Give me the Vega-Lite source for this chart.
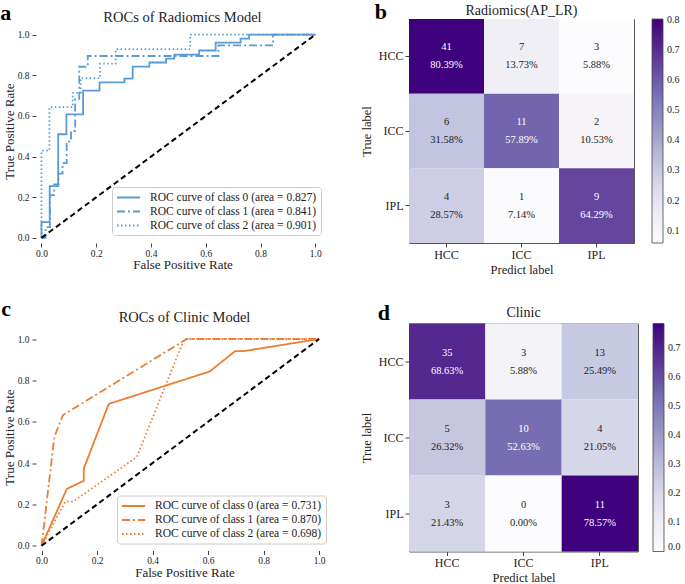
{
  "$schema": "https://vega.github.io/schema/vega-lite/v6.json",
  "padding": {"left": 0, "top": 1, "right": 0, "bottom": 0},
  "background": "white",
  "config": {
    "font": "Liberation Serif",
    "view": {"stroke": "#555", "strokeWidth": 1},
    "axis": {"grid": false, "domain": false, "tickColor": "#444", "labelColor": "#222", "titleColor": "#222", "titleFontWeight": "normal", "labelFont": "Liberation Serif", "titleFont": "Liberation Serif"},
    "title": {"fontWeight": "normal", "color": "#222", "font": "Liberation Serif"},
    "legend": {"labelFont": "Liberation Serif", "titleFont": "Liberation Serif"},
    "text": {"font": "Liberation Serif"}
  },
  "datasets": {
    "rocA": [
      {"curve": "ROC curve of class 0 (area = 0.827)", "fpr": 0, "tpr": 0},
      {"curve": "ROC curve of class 0 (area = 0.827)", "fpr": 0, "tpr": 0.078},
      {"curve": "ROC curve of class 0 (area = 0.827)", "fpr": 0.03, "tpr": 0.078},
      {"curve": "ROC curve of class 0 (area = 0.827)", "fpr": 0.03, "tpr": 0.255},
      {"curve": "ROC curve of class 0 (area = 0.827)", "fpr": 0.061, "tpr": 0.255},
      {"curve": "ROC curve of class 0 (area = 0.827)", "fpr": 0.061, "tpr": 0.51},
      {"curve": "ROC curve of class 0 (area = 0.827)", "fpr": 0.091, "tpr": 0.51},
      {"curve": "ROC curve of class 0 (area = 0.827)", "fpr": 0.091, "tpr": 0.608},
      {"curve": "ROC curve of class 0 (area = 0.827)", "fpr": 0.152, "tpr": 0.608},
      {"curve": "ROC curve of class 0 (area = 0.827)", "fpr": 0.152, "tpr": 0.725},
      {"curve": "ROC curve of class 0 (area = 0.827)", "fpr": 0.212, "tpr": 0.725},
      {"curve": "ROC curve of class 0 (area = 0.827)", "fpr": 0.212, "tpr": 0.765},
      {"curve": "ROC curve of class 0 (area = 0.827)", "fpr": 0.303, "tpr": 0.765},
      {"curve": "ROC curve of class 0 (area = 0.827)", "fpr": 0.303, "tpr": 0.784},
      {"curve": "ROC curve of class 0 (area = 0.827)", "fpr": 0.333, "tpr": 0.784},
      {"curve": "ROC curve of class 0 (area = 0.827)", "fpr": 0.333, "tpr": 0.843},
      {"curve": "ROC curve of class 0 (area = 0.827)", "fpr": 0.394, "tpr": 0.843},
      {"curve": "ROC curve of class 0 (area = 0.827)", "fpr": 0.394, "tpr": 0.863},
      {"curve": "ROC curve of class 0 (area = 0.827)", "fpr": 0.455, "tpr": 0.863},
      {"curve": "ROC curve of class 0 (area = 0.827)", "fpr": 0.455, "tpr": 0.882},
      {"curve": "ROC curve of class 0 (area = 0.827)", "fpr": 0.485, "tpr": 0.882},
      {"curve": "ROC curve of class 0 (area = 0.827)", "fpr": 0.485, "tpr": 0.902},
      {"curve": "ROC curve of class 0 (area = 0.827)", "fpr": 0.576, "tpr": 0.902},
      {"curve": "ROC curve of class 0 (area = 0.827)", "fpr": 0.576, "tpr": 0.922},
      {"curve": "ROC curve of class 0 (area = 0.827)", "fpr": 0.636, "tpr": 0.922},
      {"curve": "ROC curve of class 0 (area = 0.827)", "fpr": 0.636, "tpr": 0.961},
      {"curve": "ROC curve of class 0 (area = 0.827)", "fpr": 0.727, "tpr": 0.961},
      {"curve": "ROC curve of class 0 (area = 0.827)", "fpr": 0.727, "tpr": 0.98},
      {"curve": "ROC curve of class 0 (area = 0.827)", "fpr": 0.758, "tpr": 0.98},
      {"curve": "ROC curve of class 0 (area = 0.827)", "fpr": 0.758, "tpr": 1.0},
      {"curve": "ROC curve of class 0 (area = 0.827)", "fpr": 1.0, "tpr": 1.0},
      {"curve": "ROC curve of class 1 (area = 0.841)", "fpr": 0, "tpr": 0},
      {"curve": "ROC curve of class 1 (area = 0.841)", "fpr": 0.015, "tpr": 0},
      {"curve": "ROC curve of class 1 (area = 0.841)", "fpr": 0.015, "tpr": 0.053},
      {"curve": "ROC curve of class 1 (area = 0.841)", "fpr": 0.031, "tpr": 0.053},
      {"curve": "ROC curve of class 1 (area = 0.841)", "fpr": 0.031, "tpr": 0.211},
      {"curve": "ROC curve of class 1 (area = 0.841)", "fpr": 0.046, "tpr": 0.211},
      {"curve": "ROC curve of class 1 (area = 0.841)", "fpr": 0.046, "tpr": 0.263},
      {"curve": "ROC curve of class 1 (area = 0.841)", "fpr": 0.062, "tpr": 0.263},
      {"curve": "ROC curve of class 1 (area = 0.841)", "fpr": 0.062, "tpr": 0.316},
      {"curve": "ROC curve of class 1 (area = 0.841)", "fpr": 0.077, "tpr": 0.316},
      {"curve": "ROC curve of class 1 (area = 0.841)", "fpr": 0.077, "tpr": 0.368},
      {"curve": "ROC curve of class 1 (area = 0.841)", "fpr": 0.092, "tpr": 0.368},
      {"curve": "ROC curve of class 1 (area = 0.841)", "fpr": 0.092, "tpr": 0.474},
      {"curve": "ROC curve of class 1 (area = 0.841)", "fpr": 0.108, "tpr": 0.474},
      {"curve": "ROC curve of class 1 (area = 0.841)", "fpr": 0.108, "tpr": 0.526},
      {"curve": "ROC curve of class 1 (area = 0.841)", "fpr": 0.123, "tpr": 0.526},
      {"curve": "ROC curve of class 1 (area = 0.841)", "fpr": 0.123, "tpr": 0.684},
      {"curve": "ROC curve of class 1 (area = 0.841)", "fpr": 0.138, "tpr": 0.684},
      {"curve": "ROC curve of class 1 (area = 0.841)", "fpr": 0.138, "tpr": 0.842},
      {"curve": "ROC curve of class 1 (area = 0.841)", "fpr": 0.169, "tpr": 0.842},
      {"curve": "ROC curve of class 1 (area = 0.841)", "fpr": 0.169, "tpr": 0.895},
      {"curve": "ROC curve of class 1 (area = 0.841)", "fpr": 0.646, "tpr": 0.895},
      {"curve": "ROC curve of class 1 (area = 0.841)", "fpr": 0.646, "tpr": 0.947},
      {"curve": "ROC curve of class 1 (area = 0.841)", "fpr": 0.846, "tpr": 0.947},
      {"curve": "ROC curve of class 1 (area = 0.841)", "fpr": 0.846, "tpr": 1.0},
      {"curve": "ROC curve of class 1 (area = 0.841)", "fpr": 1.0, "tpr": 1.0},
      {"curve": "ROC curve of class 2 (area = 0.901)", "fpr": 0, "tpr": 0},
      {"curve": "ROC curve of class 2 (area = 0.901)", "fpr": 0, "tpr": 0.429},
      {"curve": "ROC curve of class 2 (area = 0.901)", "fpr": 0.029, "tpr": 0.429},
      {"curve": "ROC curve of class 2 (area = 0.901)", "fpr": 0.029, "tpr": 0.643},
      {"curve": "ROC curve of class 2 (area = 0.901)", "fpr": 0.114, "tpr": 0.643},
      {"curve": "ROC curve of class 2 (area = 0.901)", "fpr": 0.114, "tpr": 0.714},
      {"curve": "ROC curve of class 2 (area = 0.901)", "fpr": 0.143, "tpr": 0.714},
      {"curve": "ROC curve of class 2 (area = 0.901)", "fpr": 0.143, "tpr": 0.786},
      {"curve": "ROC curve of class 2 (area = 0.901)", "fpr": 0.214, "tpr": 0.786},
      {"curve": "ROC curve of class 2 (area = 0.901)", "fpr": 0.214, "tpr": 0.857},
      {"curve": "ROC curve of class 2 (area = 0.901)", "fpr": 0.271, "tpr": 0.857},
      {"curve": "ROC curve of class 2 (area = 0.901)", "fpr": 0.271, "tpr": 0.929},
      {"curve": "ROC curve of class 2 (area = 0.901)", "fpr": 0.543, "tpr": 0.929},
      {"curve": "ROC curve of class 2 (area = 0.901)", "fpr": 0.543, "tpr": 1.0},
      {"curve": "ROC curve of class 2 (area = 0.901)", "fpr": 1.0, "tpr": 1.0}
    ],
    "rocC": [
      {"curve": "ROC curve of class 0 (area = 0.731)", "fpr": 0, "tpr": 0},
      {"curve": "ROC curve of class 0 (area = 0.731)", "fpr": 0.091, "tpr": 0.275},
      {"curve": "ROC curve of class 0 (area = 0.731)", "fpr": 0.152, "tpr": 0.314},
      {"curve": "ROC curve of class 0 (area = 0.731)", "fpr": 0.152, "tpr": 0.373},
      {"curve": "ROC curve of class 0 (area = 0.731)", "fpr": 0.242, "tpr": 0.686},
      {"curve": "ROC curve of class 0 (area = 0.731)", "fpr": 0.606, "tpr": 0.843},
      {"curve": "ROC curve of class 0 (area = 0.731)", "fpr": 0.697, "tpr": 0.941},
      {"curve": "ROC curve of class 0 (area = 0.731)", "fpr": 0.727, "tpr": 0.941},
      {"curve": "ROC curve of class 0 (area = 0.731)", "fpr": 1.0, "tpr": 1.0},
      {"curve": "ROC curve of class 1 (area = 0.870)", "fpr": 0, "tpr": 0},
      {"curve": "ROC curve of class 1 (area = 0.870)", "fpr": 0.046, "tpr": 0.526},
      {"curve": "ROC curve of class 1 (area = 0.870)", "fpr": 0.077, "tpr": 0.632},
      {"curve": "ROC curve of class 1 (area = 0.870)", "fpr": 0.523, "tpr": 1.0},
      {"curve": "ROC curve of class 1 (area = 0.870)", "fpr": 1.0, "tpr": 1.0},
      {"curve": "ROC curve of class 2 (area = 0.698)", "fpr": 0, "tpr": 0},
      {"curve": "ROC curve of class 2 (area = 0.698)", "fpr": 0.086, "tpr": 0.214},
      {"curve": "ROC curve of class 2 (area = 0.698)", "fpr": 0.114, "tpr": 0.214},
      {"curve": "ROC curve of class 2 (area = 0.698)", "fpr": 0.343, "tpr": 0.429},
      {"curve": "ROC curve of class 2 (area = 0.698)", "fpr": 0.514, "tpr": 1.0},
      {"curve": "ROC curve of class 2 (area = 0.698)", "fpr": 1.0, "tpr": 1.0}
    ],
    "diag": [
      {"fpr": 0, "tpr": 0},
      {"fpr": 1, "tpr": 1}
    ],
    "cmB": [
      {"t": "HCC", "pr": "HCC", "n": 41, "p": 0.8039},
      {"t": "HCC", "pr": "ICC", "n": 7, "p": 0.1373},
      {"t": "HCC", "pr": "IPL", "n": 3, "p": 0.0588},
      {"t": "ICC", "pr": "HCC", "n": 6, "p": 0.3158},
      {"t": "ICC", "pr": "ICC", "n": 11, "p": 0.5789},
      {"t": "ICC", "pr": "IPL", "n": 2, "p": 0.1053},
      {"t": "IPL", "pr": "HCC", "n": 4, "p": 0.2857},
      {"t": "IPL", "pr": "ICC", "n": 1, "p": 0.0714},
      {"t": "IPL", "pr": "IPL", "n": 9, "p": 0.6429}
    ],
    "cmD": [
      {"t": "HCC", "pr": "HCC", "n": 35, "p": 0.6863},
      {"t": "HCC", "pr": "ICC", "n": 3, "p": 0.0588},
      {"t": "HCC", "pr": "IPL", "n": 13, "p": 0.2549},
      {"t": "ICC", "pr": "HCC", "n": 5, "p": 0.2632},
      {"t": "ICC", "pr": "ICC", "n": 10, "p": 0.5263},
      {"t": "ICC", "pr": "IPL", "n": 4, "p": 0.2105},
      {"t": "IPL", "pr": "HCC", "n": 3, "p": 0.2143},
      {"t": "IPL", "pr": "ICC", "n": 0, "p": 0.0},
      {"t": "IPL", "pr": "IPL", "n": 11, "p": 0.7857}
    ]
  },
  "resolve": {"scale": {"color": "independent", "strokeDash": "independent"}, "legend": {"color": "independent", "strokeDash": "independent"}},
  "spacing": 21.5,
  "vconcat": [
    {
      "spacing": 30,
      "columns": 2,
      "align": "none",
      "resolve": {"scale": {"color": "independent", "strokeDash": "independent"}, "legend": {"color": "independent", "strokeDash": "independent"}},
      "concat": [
        {
          "title": {"text": "a", "anchor": "start", "frame": "bounds", "font": "Liberation Serif", "fontSize": 22, "fontWeight": "bold", "color": "black", "offset": -15, "dx": -3},
          "resolve": {"scale": {"color": "independent", "strokeDash": "independent"}, "legend": {"color": "independent", "strokeDash": "independent"}},
          "vconcat": [
            {
              "title": {"text": "ROCs of Radiomics Model", "font": "Liberation Serif", "fontSize": 14.5, "offset": -6},
              "width": 293,
              "height": 224,
              "view": {"stroke": null},
              "layer": [
                {
                  "mark": {"type": "rect", "filled": false, "color": "#555", "strokeWidth": 1},
                  "encoding": {
                    "x": {"datum": -0.02, "type": "quantitative", "scale": {"domain": [-0.02, 1.05], "nice": false, "zero": false}},
                    "x2": {"datum": 1.05},
                    "y": {"datum": -0.025, "type": "quantitative", "scale": {"domain": [-0.025, 1.077], "nice": false, "zero": false}},
                    "y2": {"datum": 1.05}
                  }
                },
                {
                  "data": {"name": "rocA"},
                  "mark": {"type": "line", "color": "#5B9BD5", "strokeWidth": 1.8},
                  "encoding": {
                    "x": {"field": "fpr", "type": "quantitative", "scale": {"domain": [-0.02, 1.05], "nice": false, "zero": false},
                      "axis": {"title": "False Positive Rate", "values": [0, 0.2, 0.4, 0.6, 0.8, 1.0], "format": ".1f", "labelFont": "Liberation Serif", "titleFont": "Liberation Serif", "labelFontSize": 9.5, "titleFontSize": 13, "tickSize": 4, "labelPadding": 1, "titlePadding": 1}},
                    "y": {"field": "tpr", "type": "quantitative", "scale": {"domain": [-0.025, 1.077], "nice": false, "zero": false},
                      "axis": {"title": "True Positive Rate", "values": [0, 0.2, 0.4, 0.6, 0.8, 1.0], "format": ".1f", "labelFont": "Liberation Serif", "titleFont": "Liberation Serif", "labelFontSize": 9.5, "titleFontSize": 13, "tickSize": 4, "labelPadding": 3, "titlePadding": 1}},
                    "strokeDash": {"field": "curve", "type": "nominal", "scale": {"range": [[1, 0], [8, 3, 2, 3], [1.5, 2.5]]},
                      "legend": {"title": null, "orient": "bottom-right", "offset": 8, "fillColor": "white", "strokeColor": "#ccc", "padding": 4, "cornerRadius": 3, "symbolType": "M-1,0H3.2", "symbolSize": 121, "symbolStrokeWidth": 1.8, "symbolStrokeColor": "#5B9BD5", "labelFont": "Liberation Serif", "labelFontSize": 11.5, "labelLimit": 300, "rowPadding": 2, "labelOffset": 21, "labelColor": "#222"}},
                    "order": {"value": null}
                  }
                },
                {
                  "data": {"name": "diag"},
                  "mark": {"type": "line", "color": "black", "strokeDash": [5.5, 3.5], "strokeWidth": 2},
                  "encoding": {
                    "x": {"field": "fpr", "type": "quantitative", "scale": {"domain": [-0.02, 1.05], "nice": false, "zero": false}},
                    "y": {"field": "tpr", "type": "quantitative", "scale": {"domain": [-0.025, 1.077], "nice": false, "zero": false}}
                  }
                }
              ]
            }
          ]
        },
        {
          "title": {"text": "b", "anchor": "start", "frame": "bounds", "font": "Liberation Serif", "fontSize": 22, "fontWeight": "bold", "color": "black", "offset": -20.5, "dx": 15},
          "resolve": {"scale": {"color": "independent", "strokeDash": "independent"}, "legend": {"color": "independent", "strokeDash": "independent"}},
          "vconcat": [
            {
              "title": {"text": "Radiomics(AP_LR)", "font": "Liberation Serif", "fontSize": 14, "offset": 1},
              "width": 225,
              "height": 224,
              "data": {"name": "cmB"},
              "encoding": {
                "x": {"field": "pr", "type": "nominal", "sort": ["HCC", "ICC", "IPL"], "axis": {"title": "Predict label", "labelAngle": 0, "labelFont": "Liberation Serif", "titleFont": "Liberation Serif", "labelFontSize": 12, "titleFontSize": 12.5, "tickSize": 4, "labelPadding": 2, "titlePadding": 3}},
                "y": {"field": "t", "type": "nominal", "sort": ["HCC", "ICC", "IPL"], "axis": {"title": "True label", "labelFont": "Liberation Serif", "titleFont": "Liberation Serif", "labelFontSize": 12, "titleFontSize": 12.5, "tickSize": 4, "labelPadding": 2, "titlePadding": 5}}
              },
              "layer": [
                {
                  "mark": {"type": "rect"},
                  "encoding": {
                    "color": {"field": "p", "type": "quantitative",
                      "scale": {"domain": [0.0588, 0.1519, 0.2451, 0.3382, 0.4314, 0.5245, 0.6176, 0.7108, 0.8039], "range": ["#fcfbfd", "#efedf5", "#dadaeb", "#bcbddc", "#9e9ac8", "#807dba", "#6a51a3", "#54278f", "#3f007d"]},
                      "legend": {"title": null, "direction": "vertical", "gradientLength": 224, "gradientThickness": 11, "values": [0.1, 0.2, 0.3, 0.4, 0.5, 0.6, 0.7, 0.8], "format": ".1f", "labelFont": "Liberation Serif", "labelFontSize": 10, "offset": 18, "gradientStrokeColor": "#444", "gradientStrokeWidth": 0.8, "labelOverlap": false, "labelColor": "#222", "labelOffset": 4}}
                  }
                },
                {
                  "mark": {"type": "text", "dy": -9, "fontSize": 10.5, "font": "Liberation Serif"},
                  "encoding": {
                    "text": {"field": "n", "type": "quantitative"},
                    "color": {"condition": {"test": "datum.p > 0.45", "value": "white"}, "value": "#222"}
                  }
                },
                {
                  "mark": {"type": "text", "dy": 9, "fontSize": 10.5, "font": "Liberation Serif"},
                  "encoding": {
                    "text": {"field": "p", "type": "quantitative", "format": ".2%"},
                    "color": {"condition": {"test": "datum.p > 0.45", "value": "white"}, "value": "#222"}
                  }
                }
              ]
            }
          ]
        }
      ]
    },
    {
      "spacing": 26,
      "columns": 2,
      "align": "none",
      "resolve": {"scale": {"color": "independent", "strokeDash": "independent"}, "legend": {"color": "independent", "strokeDash": "independent"}},
      "concat": [
        {
          "title": {"text": "c", "anchor": "start", "frame": "bounds", "font": "Liberation Serif", "fontSize": 22, "fontWeight": "bold", "color": "black", "offset": -11, "dx": -2},
          "resolve": {"scale": {"color": "independent", "strokeDash": "independent"}, "legend": {"color": "independent", "strokeDash": "independent"}},
          "vconcat": [
            {
              "title": {"text": "ROCs of Clinic Model", "font": "Liberation Serif", "fontSize": 14.5, "offset": -1.5},
              "width": 297,
              "height": 227,
              "view": {"stroke": null},
              "layer": [
                {
                  "mark": {"type": "rect", "filled": false, "color": "#555", "strokeWidth": 1},
                  "encoding": {
                    "x": {"datum": -0.02, "type": "quantitative", "scale": {"domain": [-0.02, 1.05], "nice": false, "zero": false}},
                    "x2": {"datum": 1.05},
                    "y": {"datum": -0.023, "type": "quantitative", "scale": {"domain": [-0.023, 1.075], "nice": false, "zero": false}},
                    "y2": {"datum": 1.05}
                  }
                },
                {
                  "data": {"name": "rocC"},
                  "mark": {"type": "line", "color": "#ED7D31", "strokeWidth": 1.8},
                  "encoding": {
                    "x": {"field": "fpr", "type": "quantitative", "scale": {"domain": [-0.02, 1.05], "nice": false, "zero": false},
                      "axis": {"title": "False Positive Rate", "values": [0, 0.2, 0.4, 0.6, 0.8, 1.0], "format": ".1f", "labelFont": "Liberation Serif", "titleFont": "Liberation Serif", "labelFontSize": 9.5, "titleFontSize": 13, "tickSize": 4, "labelPadding": 1, "titlePadding": 1}},
                    "y": {"field": "tpr", "type": "quantitative", "scale": {"domain": [-0.023, 1.075], "nice": false, "zero": false},
                      "axis": {"title": "True Positive Rate", "values": [0, 0.2, 0.4, 0.6, 0.8, 1.0], "format": ".1f", "labelFont": "Liberation Serif", "titleFont": "Liberation Serif", "labelFontSize": 9.5, "titleFontSize": 13, "tickSize": 4, "labelPadding": 3, "titlePadding": 1}},
                    "strokeDash": {"field": "curve", "type": "nominal", "scale": {"range": [[1, 0], [8, 3, 2, 3], [1.5, 2.5]]},
                      "legend": {"title": null, "orient": "bottom-right", "offset": 7, "fillColor": "white", "strokeColor": "#ccc", "padding": 4, "cornerRadius": 3, "symbolType": "M-1,0H3.2", "symbolSize": 121, "symbolStrokeWidth": 1.8, "symbolStrokeColor": "#ED7D31", "labelFont": "Liberation Serif", "labelFontSize": 11.5, "labelLimit": 300, "rowPadding": 2, "labelOffset": 21, "labelColor": "#222"}},
                    "order": {"value": null}
                  }
                },
                {
                  "data": {"name": "diag"},
                  "mark": {"type": "line", "color": "black", "strokeDash": [5.5, 3.5], "strokeWidth": 2},
                  "encoding": {
                    "x": {"field": "fpr", "type": "quantitative", "scale": {"domain": [-0.02, 1.05], "nice": false, "zero": false}},
                    "y": {"field": "tpr", "type": "quantitative", "scale": {"domain": [-0.023, 1.075], "nice": false, "zero": false}}
                  }
                }
              ]
            }
          ]
        },
        {
          "title": {"text": "d", "anchor": "start", "frame": "bounds", "font": "Liberation Serif", "fontSize": 22, "fontWeight": "bold", "color": "black", "offset": -19, "dx": 18},
          "resolve": {"scale": {"color": "independent", "strokeDash": "independent"}, "legend": {"color": "independent", "strokeDash": "independent"}},
          "vconcat": [
            {
              "title": {"text": "Clinic", "font": "Liberation Serif", "fontSize": 14, "offset": 3.5},
              "width": 229,
              "height": 228,
              "data": {"name": "cmD"},
              "encoding": {
                "x": {"field": "pr", "type": "nominal", "sort": ["HCC", "ICC", "IPL"], "axis": {"title": "Predict label", "labelAngle": 0, "labelFont": "Liberation Serif", "titleFont": "Liberation Serif", "labelFontSize": 12, "titleFontSize": 12.5, "tickSize": 4, "labelPadding": 2, "titlePadding": 3}},
                "y": {"field": "t", "type": "nominal", "sort": ["HCC", "ICC", "IPL"], "axis": {"title": "True label", "labelFont": "Liberation Serif", "titleFont": "Liberation Serif", "labelFontSize": 12, "titleFontSize": 12.5, "tickSize": 4, "labelPadding": 2, "titlePadding": 5}}
              },
              "layer": [
                {
                  "mark": {"type": "rect"},
                  "encoding": {
                    "color": {"field": "p", "type": "quantitative",
                      "scale": {"domain": [0, 0.0982, 0.1964, 0.2946, 0.3929, 0.4911, 0.5893, 0.6875, 0.7857], "range": ["#fcfbfd", "#efedf5", "#dadaeb", "#bcbddc", "#9e9ac8", "#807dba", "#6a51a3", "#54278f", "#3f007d"]},
                      "legend": {"title": null, "direction": "vertical", "gradientLength": 228, "gradientThickness": 11, "values": [0, 0.1, 0.2, 0.3, 0.4, 0.5, 0.6, 0.7], "format": ".1f", "labelFont": "Liberation Serif", "labelFontSize": 10, "offset": 15, "gradientStrokeColor": "#444", "gradientStrokeWidth": 0.8, "labelOverlap": false, "labelColor": "#222", "labelOffset": 4}}
                  }
                },
                {
                  "mark": {"type": "text", "dy": -9, "fontSize": 10.5, "font": "Liberation Serif"},
                  "encoding": {
                    "text": {"field": "n", "type": "quantitative"},
                    "color": {"condition": {"test": "datum.p > 0.45", "value": "white"}, "value": "#222"}
                  }
                },
                {
                  "mark": {"type": "text", "dy": 9, "fontSize": 10.5, "font": "Liberation Serif"},
                  "encoding": {
                    "text": {"field": "p", "type": "quantitative", "format": ".2%"},
                    "color": {"condition": {"test": "datum.p > 0.45", "value": "white"}, "value": "#222"}
                  }
                }
              ]
            }
          ]
        }
      ]
    }
  ]
}
